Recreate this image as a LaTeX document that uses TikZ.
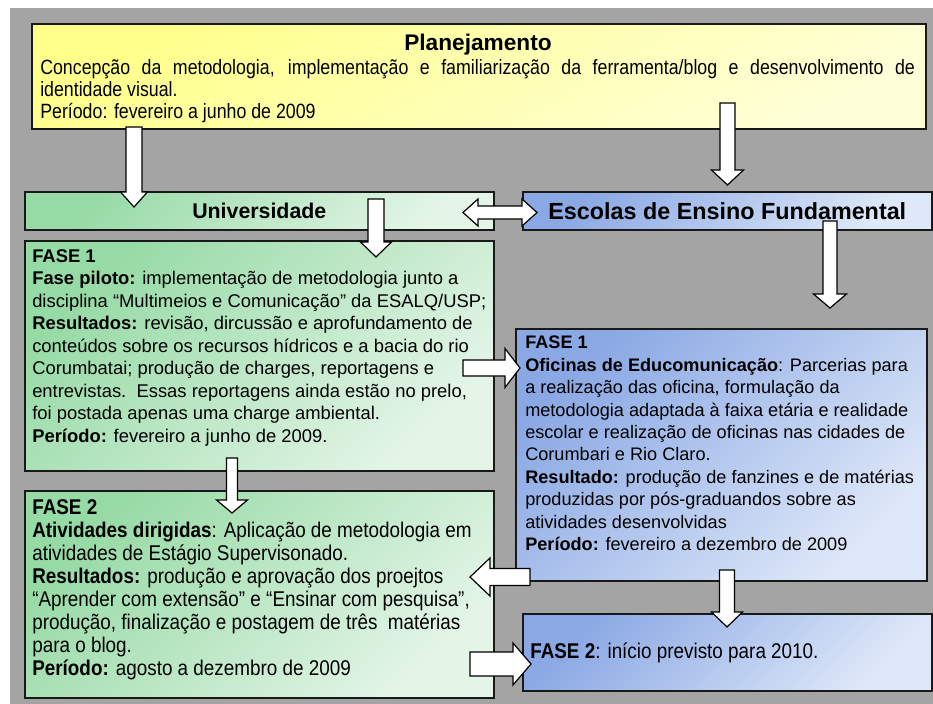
\documentclass[tikz,border=0pt]{standalone}
\usepackage{fontspec}
\setmainfont{Liberation Sans}
\newfontfamily\narrowfam{Liberation Sans}[FakeStretch=0.885]
\newfontfamily\planfam{Liberation Sans}[FakeStretch=0.86]
\usetikzlibrary{calc}
\definecolor{bggray}{RGB}{164,164,164}
\definecolor{yTop}{RGB}{255,255,140}
\definecolor{yBot}{RGB}{255,255,215}
\definecolor{gTop}{RGB}{150,218,165}
\definecolor{gBot}{RGB}{228,245,232}
\definecolor{bTop}{RGB}{138,168,228}
\definecolor{bBot}{RGB}{222,232,248}

% block arrow: from, to, shaft half width, head half width, head length (px)
\newcommand\blockarrow[5]{%
 \draw[barrow] let \p1=(#1), \p2=(#2),
   \n1={veclen(\x2-\x1,\y2-\y1)},
   \n2={(\x2-\x1)/\n1}, \n3={(\y2-\y1)/\n1},
   \n4={#3*0.75}, \n5={#4*0.75}, \n6={#5*0.75}
  in
  ({\x1-\n3*\n4},{\y1+\n2*\n4}) --
  ({\x2-\n2*\n6-\n3*\n4},{\y2-\n3*\n6+\n2*\n4}) --
  ({\x2-\n2*\n6-\n3*\n5},{\y2-\n3*\n6+\n2*\n5}) --
  (\x2,\y2) --
  ({\x2-\n2*\n6+\n3*\n5},{\y2-\n3*\n6-\n2*\n5}) --
  ({\x2-\n2*\n6+\n3*\n4},{\y2-\n3*\n6-\n2*\n4}) --
  ({\x1+\n3*\n4},{\y1-\n2*\n4}) -- cycle;
}
% double block arrow
\newcommand\dblblockarrow[5]{%
 \draw[barrow] let \p1=(#1), \p2=(#2),
   \n1={veclen(\x2-\x1,\y2-\y1)},
   \n2={(\x2-\x1)/\n1}, \n3={(\y2-\y1)/\n1},
   \n4={#3*0.75}, \n5={#4*0.75}, \n6={#5*0.75}
  in
  (\x1,\y1) --
  ({\x1+\n2*\n6-\n3*\n5},{\y1+\n3*\n6+\n2*\n5}) --
  ({\x1+\n2*\n6-\n3*\n4},{\y1+\n3*\n6+\n2*\n4}) --
  ({\x2-\n2*\n6-\n3*\n4},{\y2-\n3*\n6+\n2*\n4}) --
  ({\x2-\n2*\n6-\n3*\n5},{\y2-\n3*\n6+\n2*\n5}) --
  (\x2,\y2) --
  ({\x2-\n2*\n6+\n3*\n5},{\y2-\n3*\n6-\n2*\n5}) --
  ({\x2-\n2*\n6+\n3*\n4},{\y2-\n3*\n6-\n2*\n4}) --
  ({\x1+\n2*\n6+\n3*\n4},{\y1+\n3*\n6-\n2*\n4}) --
  ({\x1+\n2*\n6+\n3*\n5},{\y1+\n3*\n6-\n2*\n5}) -- cycle;
}

\newcommand\fbody{\fontsize{13.8}{16.875}\selectfont}
\newcommand\fbodyR{\fontsize{13.6}{16.8}\selectfont}
\newcommand\fnarrow{\narrowfam\fontsize{16}{17.25}\selectfont}
\newcommand\fplan{\planfam\fontsize{15.5}{16.4}\selectfont}
\newcommand\fhead{\bfseries\fontsize{16}{19}\selectfont}
\newcommand\fheadB{\bfseries\fontsize{17.5}{19}\selectfont}
\newcommand\ftitle{\bfseries\fontsize{17}{19}\selectfont}

\tikzset{
  box/.style={draw=black!90, line width=1.2pt, inner sep=0pt, anchor=north west},
  ybox/.style={box, top color=yTop, bottom color=yBot, shading angle=30},
  gbox/.style={box, top color=gTop, bottom color=gBot, shading angle=45},
  bbox/.style={box, top color=bTop, bottom color=bBot, shading angle=45},
  txt/.style={anchor=north west, inner sep=0pt, align=left},
  barrow/.style={draw=black, fill=white, line width=0.9pt, line join=miter},
}

\begin{document}
\begin{tikzpicture}[x=0.75pt, y=-0.75pt]
\useasboundingbox (0,0) rectangle (933,704);
\fill[white] (0,0) rectangle (933,704);
\fill[bggray] (10,8) rectangle (933,704);

% boxes
\node[ybox, minimum width=670.5pt, minimum height=78.75pt] (plan) at (31,23) {};
\node[gbox, minimum width=351.75pt, minimum height=28.5pt, font=\fhead] (univ) at (24,191) {Universidade};
\node[bbox, minimum width=306.75pt, minimum height=28.5pt, font=\fheadB] (esc) at (522,191) {Escolas de Ensino Fundamental};
\node[gbox, minimum width=351.75pt, minimum height=172.5pt] (f1L) at (24,240) {};
\node[gbox, minimum width=351.75pt, minimum height=155.25pt] (f2L) at (24,490) {};
\node[bbox, minimum width=308.25pt, minimum height=189pt] (f1R) at (515,328) {};
\node[bbox, minimum width=306.75pt, minimum height=57.75pt] (f2R) at (522,613) {};

% texts
\node[inner sep=0pt, font=\ftitle] (plantitle) at (478,45) {Planejamento};
\node[txt, text width=656pt, align=justify, font=\fplan] (planbody) at (40,59)
 {\strut Concepção da metodologia, implementação e familiarização da ferramenta/blog e desenvolvimento de\linebreak identidade visual.\\ Período: fevereiro a junho de 2009};

\node[txt, font=\fbody] (t1L) at (32,246) {\strut\textbf{FASE 1}\\
\textbf{Fase piloto:} implementação de metodologia junto a\\
disciplina “Multimeios e Comunicação” da ESALQ/USP;\\
\textbf{Resultados:} revisão, dircussão e aprofundamento de\\
conteúdos sobre os recursos hídricos e a bacia do rio\\
Corumbatai; produção de charges, reportagens e\\
entrevistas.\ \ Essas reportagens ainda estão no prelo,\\
foi postada apenas uma charge ambiental.\\
\textbf{Período:} fevereiro a junho de 2009.};

\node[txt, font=\fbodyR] (t1R) at (525,333) {\strut\textbf{FASE 1}\\
\textbf{Oficinas de Educomunicação}: Parcerias para\\
a realização das oficina, formulação da\\
metodologia adaptada à faixa etária e realidade\\
escolar e realização de oficinas nas cidades de\\
Corumbari e Rio Claro.\\
\textbf{Resultado:} produção de fanzines e de matérias\\
produzidas por pós-graduandos sobre as\\
atividades desenvolvidas\\
\textbf{Período:} fevereiro a dezembro de 2009};

\node[txt, font=\fnarrow] (t2L) at (32,498) {\strut\textbf{FASE 2}\\
\textbf{Atividades dirigidas}: Aplicação de metodologia em\\
atividades de Estágio Supervisonado.\\
\textbf{Resultados:} produção e aprovação dos proejtos\\
“Aprender com extensão” e “Ensinar com pesquisa”,\\
produção, finalização e postagem de três\ \ matérias\\
para o blog.\\
\textbf{Período:} agosto a dezembro de 2009};

\node[anchor=base west, inner sep=0pt, font=\fnarrow] (t2R) at (530,658) {\textbf{FASE 2}: início previsto para 2010.};

% arrow end points
\coordinate (a1s) at (134,127);   \coordinate (a1e) at (134,207);
\coordinate (a2s) at (376,199);   \coordinate (a2e) at (376,257);
\coordinate (a3s) at (727.5,103); \coordinate (a3e) at (727.5,185);
\coordinate (a4s) at (830,221);   \coordinate (a4e) at (830,308);
\coordinate (a5s) at (463,368);   \coordinate (a5e) at (520,368);
\coordinate (a6s) at (232,458);   \coordinate (a6e) at (232,513);
\coordinate (a7s) at (727,570);   \coordinate (a7e) at (727,627);
\coordinate (a8s) at (530,577);   \coordinate (a8e) at (470,577);
\coordinate (a9s) at (470,664);   \coordinate (a9e) at (531,664);
\coordinate (dUs) at (463,212.5); \coordinate (dEs) at (537,212.5);

% connectors
\blockarrow{a1s}{a1e}{8}{13.5}{15}
\blockarrow{a2s}{a2e}{8}{15.5}{15}
\blockarrow{a3s}{a3e}{7.5}{16}{15}
\blockarrow{a4s}{a4e}{7}{16.5}{14}
\blockarrow{a5s}{a5e}{8}{19.5}{15}
\blockarrow{a6s}{a6e}{5.5}{15.5}{13}
\blockarrow{a7s}{a7e}{7.5}{15.5}{15}
\blockarrow{a8s}{a8e}{8.5}{19}{20}
\blockarrow{a9s}{a9e}{12}{21}{18}
\dblblockarrow{dUs}{dEs}{6.5}{13.5}{15}
\end{tikzpicture}
\end{document}
